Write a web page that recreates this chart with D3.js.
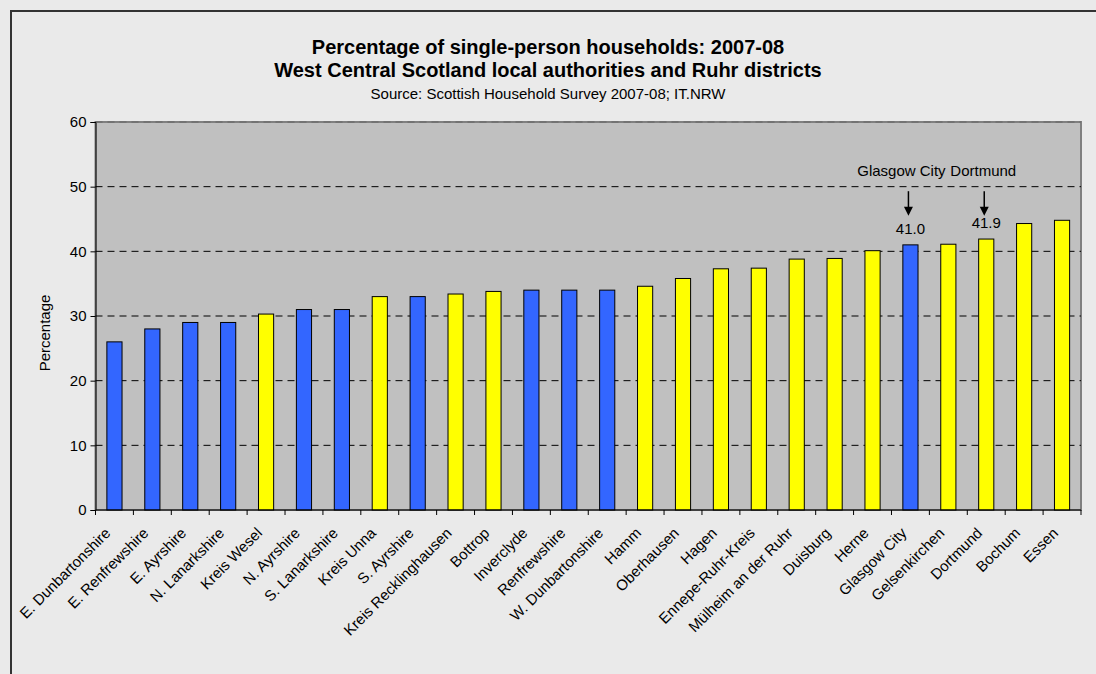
<!DOCTYPE html>
<html>
<head>
<meta charset="utf-8">
<script src="https://cdn.jsdelivr.net/npm/d3@7"></script>
<style>
  html, body { margin: 0; padding: 0; background: #eaeaea; }
  svg { display: block; font-family: "Liberation Sans", Arial, sans-serif; }
</style>
</head>
<body>
<script>
'use strict';

// categories in chart order
const areas = [
  "E. Dunbartonshire", "E. Renfrewshire", "E. Ayrshire", "N. Lanarkshire", "Kreis Wesel",
  "N. Ayrshire", "S. Lanarkshire", "Kreis Unna", "S. Ayrshire", "Kreis Recklinghausen",
  "Bottrop", "Inverclyde", "Renfrewshire", "W. Dunbartonshire", "Hamm",
  "Oberhausen", "Hagen", "Ennepe-Ruhr-Kreis", "Mülheim an der Ruhr", "Duisburg",
  "Herne", "Glasgow City", "Gelsenkirchen", "Dortmund", "Bochum", "Essen"
];

// percentage of single-person households
const values = [
  26.0, 28.0, 29.0, 29.0, 30.3,
  31.0, 31.0, 33.0, 33.0, 33.4,
  33.8, 34.0, 34.0, 34.0, 34.6,
  35.8, 37.3, 37.4, 38.8, 38.9,
  40.1, 41.0, 41.1, 41.9, 44.3, 44.8
];

// which region each area belongs to
const regions = [
  "scot", "scot", "scot", "scot", "ruhr",
  "scot", "scot", "ruhr", "scot", "ruhr",
  "ruhr", "scot", "scot", "scot", "ruhr",
  "ruhr", "ruhr", "ruhr", "ruhr", "ruhr",
  "ruhr", "scot", "ruhr", "ruhr", "ruhr", "ruhr"
];

const yTicks = [0, 10, 20, 30, 40, 50, 60];

// highlighted bars with arrow + value label
const callouts = ["Glasgow City", "Dortmund"];

const colours = { scot: "#3366ff", ruhr: "#ffff00" };

const width = 1096, height = 674;
const plot = { left: 95.5, right: 1081, top: 122, bottom: 510 };

const svg = d3.select("body").append("svg")
  .attr("width", width)
  .attr("height", height);

// outer chart frame (runs off the right and bottom)
svg.append("rect")
  .attr("x", 11).attr("y", 11)
  .attr("width", 1110).attr("height", 700)
  .attr("fill", "#eaeaea")
  .attr("stroke", "#333")
  .attr("stroke-width", 2);

// titles
const titles = [
  { text: "Percentage of single-person households: 2007-08", y: 54, size: 20, weight: "bold" },
  { text: "West Central Scotland local authorities and Ruhr districts", y: 77, size: 20, weight: "bold" },
  { text: "Source: Scottish Household Survey 2007-08; IT.NRW", y: 99, size: 15, weight: "normal" }
];
svg.selectAll(".title")
  .data(titles)
  .enter()
  .append("text")
    .attr("class", "title")
    .attr("x", 548)
    .attr("y", d => d.y)
    .attr("text-anchor", "middle")
    .style("font-size", d => d.size + "px")
    .style("font-weight", d => d.weight)
    .text(d => d.text);

// scales
const xScale = d3.scaleBand()
  .domain(areas)
  .range([plot.left, plot.right])
  .paddingInner(0.6)
  .paddingOuter(0.3);

const xBand = d3.scaleBand()
  .domain(areas)
  .range([plot.left, plot.right]);

const yScale = d3.scaleLinear()
  .domain([0, 60])
  .range([plot.bottom, plot.top]);

// plot area
svg.append("rect")
  .attr("x", plot.left).attr("y", plot.top)
  .attr("width", plot.right - plot.left)
  .attr("height", plot.bottom - plot.top)
  .attr("fill", "#c0c0c0")
  .attr("stroke", "#808080")
  .attr("stroke-width", 2);

// dashed gridlines
svg.selectAll(".grid")
  .data(yTicks.slice(1))
  .enter()
  .append("line")
    .attr("class", "grid")
    .attr("x1", plot.left).attr("x2", plot.right)
    .attr("y1", d => yScale(d)).attr("y2", d => yScale(d))
    .attr("stroke", d => d === 60 ? "#666" : "#000")
    .attr("stroke-width", 1)
    .attr("stroke-dasharray", "7,5");

// bars
svg.selectAll(".bar")
  .data(areas)
  .enter()
  .append("rect")
    .attr("class", "bar")
    .attr("x", d => xScale(d))
    .attr("y", (d, i) => yScale(values[i]))
    .attr("width", xScale.bandwidth())
    .attr("height", (d, i) => yScale(0) - yScale(values[i]))
    .attr("fill", (d, i) => colours[regions[i]])
    .attr("stroke", "#000")
    .attr("stroke-width", 1);

// y axis
const yAxis = d3.axisLeft(yScale)
  .tickValues(yTicks)
  .tickSize(5)
  .tickPadding(4)
  .tickFormat(d3.format("d"));
const gy = svg.append("g")
  .attr("transform", "translate(" + plot.left + ",0)")
  .call(yAxis);
gy.select(".domain").attr("stroke", "#000");
gy.selectAll("text").style("font-size", "15px").attr("fill", "#000").style("font-family", "inherit");

// x axis: ticks between the categories
const gx = svg.append("g")
  .attr("transform", "translate(0," + plot.bottom + ")");
gx.append("line")
  .attr("x1", plot.left).attr("x2", plot.right)
  .attr("stroke", "#000");
const bounds = areas.map(d => xBand(d)).concat([plot.right]);
gx.selectAll(".xtick")
  .data(bounds)
  .enter()
  .append("line")
    .attr("class", "xtick")
    .attr("x1", d => d).attr("x2", d => d)
    .attr("y1", 0).attr("y2", 5)
    .attr("stroke", "#000");

gx.selectAll(".xlabel")
  .data(areas)
  .enter()
  .append("text")
    .attr("class", "xlabel")
    .attr("text-anchor", "end")
    .attr("transform", d => "translate(" + (xBand(d) + xBand.bandwidth() / 2 - 3) + ",24) rotate(-45)")
    .style("font-size", "15px")
    .text(d => d);

// axis title
svg.append("text")
  .attr("transform", "translate(50,333) rotate(-90)")
  .attr("text-anchor", "middle")
  .style("font-size", "15px")
  .text("Percentage");

// callouts: name, arrow and value label
const cx = d => xBand(d) + xBand.bandwidth() / 2;
const vOf = d => values[areas.indexOf(d)];

svg.selectAll(".callname")
  .data(callouts)
  .enter()
  .append("text")
    .attr("class", "callname")
    .attr("x", (d, i) => cx(d) + (i === 0 ? -9 : -3))
    .attr("y", 176)
    .attr("text-anchor", "middle")
    .style("font-size", "15px")
    .text(d => d);

svg.selectAll(".callline")
  .data(callouts)
  .enter()
  .append("line")
    .attr("class", "callline")
    .attr("x1", d => cx(d) - 2).attr("x2", d => cx(d) - 2)
    .attr("y1", yScale(49.3)).attr("y2", yScale(46.5))
    .attr("stroke", "#000")
    .attr("stroke-width", 1.5);

svg.selectAll(".callhead")
  .data(callouts)
  .enter()
  .append("path")
    .attr("class", "callhead")
    .attr("d", d => {
      const x = cx(d) - 2, tip = yScale(45.5), base = tip - 9;
      return "M" + (x - 4.5) + "," + base + "L" + (x + 4.5) + "," + base + "L" + x + "," + tip + "Z";
    })
    .attr("fill", "#000");

svg.selectAll(".callvalue")
  .data(callouts)
  .enter()
  .append("text")
    .attr("class", "callvalue")
    .attr("x", d => cx(d))
    .attr("y", d => yScale(vOf(d)) - 11)
    .attr("text-anchor", "middle")
    .style("font-size", "15px")
    .text(d => vOf(d).toFixed(1));
</script>
</body>
</html>
